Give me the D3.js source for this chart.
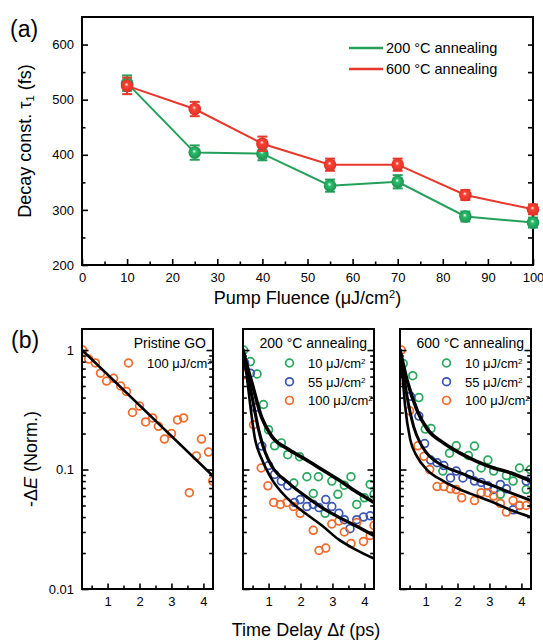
<!DOCTYPE html>
<html>
<head>
<meta charset="utf-8">
<script src="https://cdn.jsdelivr.net/npm/d3@7"></script>
<style>
  body { margin: 0; background: #fff; }
  svg { display: block; }
</style>
</head>
<body>
<svg id="chart" width="543" height="643"></svg>
<script>
// ---------- Panel (a): decay constant vs pump fluence ----------
const fluence = [10, 25, 40, 55, 70, 85, 100];
const tau200 = [530, 404, 402, 344, 351, 288, 277];
const tau200Err = [14, 13, 12, 11, 12, 9, 9];
const tau600 = [525, 483, 420, 382, 382, 327, 301];
const tau600Err = [15, 13, 13, 11, 11, 9, 9];
const fluenceTicks = [0, 10, 20, 30, 40, 50, 60, 70, 80, 90, 100];
const tauTicks = [200, 300, 400, 500, 600];

// ---------- Panel (b): normalised transients ----------
const delayTicks = [1, 2, 3, 4];
const signalTicks = [0.01, 0.1, 1];

// Pristine GO, 100 uJ/cm2
const pristineT = [0.22, 0.41, 0.62, 0.78, 0.97, 1.19, 1.41, 1.59, 1.78, 2.0, 2.19, 2.41, 2.59, 2.78, 3.0, 3.19, 3.38, 3.56, 3.78, 3.94, 4.16, 4.29];
const pristineV = [1.0, 0.84, 0.78, 0.64, 0.55, 0.58, 0.50, 0.45, 0.30, 0.34, 0.25, 0.27, 0.23, 0.18, 0.20, 0.26, 0.27, 0.064, 0.13, 0.18, 0.14, 0.08];
const pristineFitT = [0.2, 4.3];
const pristineFitV = [1.0, 0.088];

// 200 C annealing
const a200T_10 = [0.22, 0.43, 0.64, 0.84, 1.0, 1.19, 1.4, 1.6, 1.79, 1.97, 2.2, 2.4, 2.56, 2.77, 2.98, 3.17, 3.37, 3.58, 3.76, 4.0, 4.18, 4.3];
const a200V_10 = [1.0, 0.80, 0.63, 0.35, 0.215, 0.158, 0.167, 0.133, 0.077, 0.128, 0.087, 0.063, 0.087, 0.043, 0.080, 0.062, 0.074, 0.087, 0.051, 0.058, 0.075, 0.062];
const a200T_55 = [0.25, 0.43, 0.58, 0.79, 1.0, 1.19, 1.4, 1.6, 1.81, 1.99, 2.2, 2.4, 2.58, 2.79, 2.98, 3.2, 3.37, 3.55, 3.76, 3.97, 4.18];
const a200V_55 = [0.78, 0.64, 0.33, 0.157, 0.108, 0.091, 0.080, 0.073, 0.053, 0.056, 0.049, 0.051, 0.048, 0.056, 0.049, 0.043, 0.038, 0.032, 0.038, 0.040, 0.041];
const a200T_100 = [0.25, 0.53, 0.77, 0.98, 1.16, 1.37, 1.58, 1.78, 1.99, 2.4, 2.58, 2.79, 2.98, 3.2, 3.37, 3.58, 3.76, 3.97, 4.18, 4.3];
const a200V_100 = [0.62, 0.237, 0.103, 0.073, 0.053, 0.051, 0.053, 0.049, 0.043, 0.031, 0.021, 0.022, 0.035, 0.037, 0.030, 0.024, 0.036, 0.025, 0.028, 0.034];
const fit200T_10 = [0.2, 0.32, 0.48, 0.79, 1.10, 1.63, 2.15, 2.67, 3.19, 3.71, 4.3];
const fit200V_10 = [1.0, 0.75, 0.53, 0.27, 0.19, 0.147, 0.122, 0.100, 0.082, 0.066, 0.053];
const fit200T_55 = [0.2, 0.32, 0.48, 0.69, 0.9, 1.1, 1.63, 2.15, 2.67, 3.19, 3.71, 4.3];
const fit200V_55 = [1.0, 0.66, 0.41, 0.215, 0.138, 0.107, 0.077, 0.060, 0.048, 0.040, 0.034, 0.028];
const fit200T_100 = [0.2, 0.32, 0.43, 0.58, 0.79, 1.1, 1.63, 2.15, 2.67, 3.19, 3.71, 4.3];
const fit200V_100 = [1.0, 0.60, 0.34, 0.178, 0.122, 0.083, 0.056, 0.043, 0.034, 0.026, 0.0215, 0.018];

// 600 C annealing
const a600T_10 = [0.3, 0.6, 0.79, 0.99, 1.17, 1.54, 1.75, 1.96, 2.34, 2.53, 2.74, 2.95, 3.13, 3.34, 3.53, 3.74, 3.94, 4.15, 4.28];
const a600V_10 = [0.77, 0.61, 0.40, 0.218, 0.22, 0.097, 0.137, 0.158, 0.131, 0.157, 0.103, 0.120, 0.097, 0.062, 0.089, 0.080, 0.103, 0.068, 0.100];
const a600T_55 = [0.22, 0.53, 0.79, 0.97, 1.16, 1.36, 1.57, 1.78, 1.96, 2.17, 2.38, 2.53, 2.74, 2.95, 3.13, 3.34, 3.53, 3.74, 3.94, 4.15];
const a600V_55 = [0.66, 0.41, 0.28, 0.165, 0.120, 0.114, 0.108, 0.085, 0.097, 0.085, 0.091, 0.080, 0.078, 0.073, 0.068, 0.075, 0.069, 0.046, 0.050, 0.080];
const a600T_100 = [0.24, 0.29, 0.5, 0.76, 0.95, 1.13, 1.36, 1.57, 1.78, 1.96, 2.13, 2.53, 2.74, 2.95, 3.13, 3.34, 3.53, 3.74, 3.94, 4.15];
const a600V_100 = [1.0, 0.56, 0.31, 0.158, 0.129, 0.100, 0.072, 0.072, 0.069, 0.068, 0.058, 0.055, 0.064, 0.064, 0.060, 0.052, 0.044, 0.055, 0.050, 0.050];
const fit600T_10 = [0.2, 0.3, 0.42, 0.73, 1.04, 1.56, 2.08, 2.6, 3.13, 3.65, 4.3];
const fit600V_10 = [1.0, 0.76, 0.56, 0.316, 0.22, 0.167, 0.137, 0.117, 0.103, 0.094, 0.080];
const fit600T_55 = [0.2, 0.3, 0.42, 0.625, 0.83, 1.04, 1.56, 2.08, 2.6, 3.13, 3.65, 4.3];
const fit600V_55 = [1.0, 0.66, 0.41, 0.23, 0.167, 0.137, 0.107, 0.094, 0.082, 0.073, 0.064, 0.055];
const fit600T_100 = [0.2, 0.28, 0.36, 0.52, 0.73, 1.04, 1.56, 2.08, 2.6, 3.13, 3.65, 4.3];
const fit600V_100 = [1.0, 0.60, 0.34, 0.178, 0.129, 0.100, 0.080, 0.068, 0.060, 0.053, 0.046, 0.040];

// ---------- drawing ----------
const FONT = '"Liberation Sans", Arial, Helvetica, sans-serif';
const GREEN_A = '#22a05a', RED_A = '#e8372b';
const GREEN = '#27a85c', BLUE = '#3c55b2', ORANGE = '#f06a2a';

const svg = d3.select('#chart').attr('font-family', FONT);
const defs = svg.append('defs');

function rich(sel, parts) {
  parts.forEach(p => {
    const ts = sel.append('tspan').text(p.t);
    if (p.sup) ts.attr('font-size', '62%').attr('baseline-shift', '55%');
    if (p.sub) ts.attr('font-size', '62%').attr('baseline-shift', '-25%');
    if (p.it) ts.attr('font-style', 'italic');
  });
  return sel;
}

function styleAxis(g, size) {
  g.select('.domain').remove();
  g.attr('font-family', FONT).attr('font-size', size);
  g.selectAll('.tick line').attr('stroke', '#000').attr('stroke-width', 1.6);
  g.selectAll('.tick text').attr('fill', '#000');
}

// ===== Panel (a) =====
const ax0 = 82, ax1 = 533, ay0 = 17, ay1 = 265;
const xA = d3.scaleLinear().domain([0, 100]).range([ax0, ax1]);
const yA = d3.scaleLinear().domain([200, 650]).range([ay1, ay0]);
const gA = svg.append('g');

gA.append('g').attr('transform', `translate(0,${ay1})`)
  .call(d3.axisBottom(xA).tickValues(fluenceTicks).tickSizeInner(-6).tickSizeOuter(0).tickPadding(8))
  .call(g => styleAxis(g, 13));
gA.append('g').attr('transform', `translate(0,${ay1})`)
  .call(d3.axisBottom(xA).tickValues(d3.range(5, 100, 10)).tickSizeInner(-3.5).tickSizeOuter(0).tickFormat(''))
  .call(g => styleAxis(g, 13));
gA.append('g').attr('transform', `translate(${ax0},0)`)
  .call(d3.axisLeft(yA).tickValues(tauTicks).tickSizeInner(-6).tickSizeOuter(0).tickPadding(8))
  .call(g => styleAxis(g, 13));
gA.append('g').attr('transform', `translate(${ax0},0)`)
  .call(d3.axisLeft(yA).tickValues([250, 350, 450, 550]).tickSizeInner(-3.5).tickSizeOuter(0).tickFormat(''))
  .call(g => styleAxis(g, 13));
gA.append('g').attr('transform', `translate(${ax1},0)`)
  .call(d3.axisRight(yA).tickValues([250, 300, 350, 400, 450, 500, 550, 600]).tickSizeInner(-5).tickSizeOuter(0).tickFormat(''))
  .call(g => styleAxis(g, 13));

gA.append('rect').attr('x', ax0).attr('y', ay0).attr('width', ax1 - ax0).attr('height', ay1 - ay0)
  .attr('fill', 'none').attr('stroke', '#000').attr('stroke-width', 2);

function sphereGradient(id, color) {
  const g = defs.append('radialGradient').attr('id', id)
    .attr('cx', '50%').attr('cy', '50%').attr('r', '55%').attr('fx', '45%').attr('fy', '38%');
  g.append('stop').attr('offset', '0%').attr('stop-color', '#ffffff');
  g.append('stop').attr('offset', '28%').attr('stop-color', d3.color(color).brighter(0.5));
  g.append('stop').attr('offset', '70%').attr('stop-color', color);
  g.append('stop').attr('offset', '100%').attr('stop-color', d3.color(color).darker(0.3));
}
sphereGradient('sph-green', GREEN_A);
sphereGradient('sph-red', RED_A);

const seriesA = [
  { vals: tau200, err: tau200Err, color: GREEN_A, grad: 'sph-green' },
  { vals: tau600, err: tau600Err, color: RED_A, grad: 'sph-red' }
];
const lineA = d3.line().x(d => xA(d[0])).y(d => yA(d[1]));
seriesA.forEach(s => {
  const pts = fluence.map((f, i) => [f, s.vals[i], s.err[i]]);
  gA.append('path').datum(pts).attr('d', lineA).attr('fill', 'none')
    .attr('stroke', s.color).attr('stroke-width', 2);
  const eb = gA.append('g').attr('stroke', s.color).attr('stroke-width', 2);
  pts.forEach(p => {
    const cx = xA(p[0]);
    eb.append('line').attr('x1', cx).attr('x2', cx).attr('y1', yA(p[1] - p[2])).attr('y2', yA(p[1] + p[2]));
    eb.append('line').attr('x1', cx - 5).attr('x2', cx + 5).attr('y1', yA(p[1] - p[2])).attr('y2', yA(p[1] - p[2]));
    eb.append('line').attr('x1', cx - 5).attr('x2', cx + 5).attr('y1', yA(p[1] + p[2])).attr('y2', yA(p[1] + p[2]));
  });
  gA.append('g').selectAll('circle').data(pts).join('circle')
    .attr('cx', d => xA(d[0])).attr('cy', d => yA(d[1])).attr('r', 6.3)
    .attr('fill', `url(#${s.grad})`);
});

// legend (a)
const legA = [
  { label: '200 °C annealing', color: GREEN_A },
  { label: '600 °C annealing', color: RED_A }
];
legA.forEach((l, i) => {
  const y = 48 + i * 21;
  gA.append('line').attr('x1', 349).attr('x2', 383).attr('y1', y).attr('y2', y)
    .attr('stroke', l.color).attr('stroke-width', 2.5);
  gA.append('text').attr('x', 386).attr('y', y + 5).attr('font-size', 14.5).text(l.label);
});

// axis titles (a)
rich(gA.append('text').attr('x', (ax0 + ax1) / 2).attr('y', 304).attr('text-anchor', 'middle').attr('font-size', 18),
  [{ t: 'Pump Fluence (μJ/cm' }, { t: '2', sup: true }, { t: ')' }]);
rich(gA.append('text').attr('transform', `translate(31,${(ay0 + ay1) / 2}) rotate(-90)`).attr('text-anchor', 'middle').attr('font-size', 18),
  [{ t: 'Decay const. τ' }, { t: '1', sub: true }, { t: ' (fs)' }]);
svg.append('text').attr('x', 10).attr('y', 37).attr('font-size', 23).text('(a)');

// ===== Panel (b) =====
const by0 = 329, by1 = 589;
const yB = d3.scaleLog().domain([0.01, 1.5]).range([by1, by0]);
const minorLog = [0.02, 0.03, 0.04, 0.05, 0.06, 0.07, 0.08, 0.09, 0.2, 0.3, 0.4, 0.5, 0.6, 0.7, 0.8, 0.9];

const panels = [
  {
    x0: 82, x1: 213, labels: true, title: 'Pristine GO',
    data: [{ t: pristineT, v: pristineV, color: ORANGE, name: '100 μJ/cm' }],
    fits: [{ t: pristineFitT, v: pristineFitV, w: 2.6 }]
  },
  {
    x0: 243, x1: 374, labels: false, title: '200 °C annealing',
    data: [
      { t: a200T_10, v: a200V_10, color: GREEN, name: '10 μJ/cm' },
      { t: a200T_55, v: a200V_55, color: BLUE, name: '55 μJ/cm' },
      { t: a200T_100, v: a200V_100, color: ORANGE, name: '100 μJ/cm' }
    ],
    fits: [
      { t: fit200T_10, v: fit200V_10, w: 3.6 },
      { t: fit200T_55, v: fit200V_55, w: 3.2 },
      { t: fit200T_100, v: fit200V_100, w: 2.6 }
    ]
  },
  {
    x0: 400, x1: 531, labels: false, title: '600 °C annealing',
    data: [
      { t: a600T_10, v: a600V_10, color: GREEN, name: '10 μJ/cm' },
      { t: a600T_55, v: a600V_55, color: BLUE, name: '55 μJ/cm' },
      { t: a600T_100, v: a600V_100, color: ORANGE, name: '100 μJ/cm' }
    ],
    fits: [
      { t: fit600T_10, v: fit600V_10, w: 3.6 },
      { t: fit600T_55, v: fit600V_55, w: 3.0 },
      { t: fit600T_100, v: fit600V_100, w: 2.6 }
    ]
  }
];

panels.forEach((p, pi) => {
  const xB = d3.scaleLinear().domain([0.2, 4.3]).range([p.x0, p.x1]);
  const g = svg.append('g');
  const clipId = `clip-b${pi}`;
  defs.append('clipPath').attr('id', clipId).append('rect')
    .attr('x', p.x0).attr('y', by0).attr('width', p.x1 - p.x0).attr('height', by1 - by0);

  // markers
  const marks = g.append('g').attr('clip-path', `url(#${clipId})`);
  p.data.forEach(s => {
    marks.append('g').selectAll('circle').data(s.t.map((t, i) => [t, s.v[i]])).join('circle')
      .attr('cx', d => xB(d[0])).attr('cy', d => yB(d[1])).attr('r', 3.9)
      .attr('fill', 'none').attr('stroke', s.color).attr('stroke-width', 1.7);
  });
  // fitted decays
  const lineB = d3.line().x(d => xB(d[0])).y(d => yB(d[1])).curve(d3.curveMonotoneX);
  p.fits.forEach(f => {
    marks.append('path').datum(f.t.map((t, i) => [t, f.v[i]])).attr('d', lineB)
      .attr('fill', 'none').attr('stroke', '#000').attr('stroke-width', f.w).attr('stroke-linecap', 'round');
  });

  // axes
  g.append('g').attr('transform', `translate(0,${by1})`)
    .call(d3.axisBottom(xB).tickValues(delayTicks).tickFormat(d3.format('d')).tickSizeInner(-5.5).tickSizeOuter(0).tickPadding(8))
    .call(a => styleAxis(a, 13));
  g.append('g').attr('transform', `translate(0,${by1})`)
    .call(d3.axisBottom(xB).tickValues([0.5, 1.5, 2.5, 3.5]).tickSizeInner(-3.5).tickSizeOuter(0).tickFormat(''))
    .call(a => styleAxis(a, 13));
  const left = d3.axisLeft(yB).tickValues(signalTicks).tickSizeInner(-6.5).tickSizeOuter(0).tickPadding(8)
    .tickFormat(p.labels ? d3.format('~g') : () => '');
  g.append('g').attr('transform', `translate(${p.x0},0)`).call(left).call(a => styleAxis(a, 13));
  g.append('g').attr('transform', `translate(${p.x0},0)`)
    .call(d3.axisLeft(yB).tickValues(minorLog).tickSizeInner(-3.8).tickSizeOuter(0).tickFormat(''))
    .call(a => styleAxis(a, 13));
  g.append('g').attr('transform', `translate(${p.x1},0)`)
    .call(d3.axisRight(yB).tickValues(signalTicks.slice(1)).tickSizeInner(-6.5).tickSizeOuter(0).tickFormat(''))
    .call(a => styleAxis(a, 13));
  g.append('g').attr('transform', `translate(${p.x1},0)`)
    .call(d3.axisRight(yB).tickValues(minorLog).tickSizeInner(-3.8).tickSizeOuter(0).tickFormat(''))
    .call(a => styleAxis(a, 13));

  g.append('rect').attr('x', p.x0).attr('y', by0).attr('width', p.x1 - p.x0).attr('height', by1 - by0)
    .attr('fill', 'none').attr('stroke', '#000').attr('stroke-width', 2);

  // in-panel legend
  g.append('text').attr('x', p.x1 - 7).attr('y', 348).attr('text-anchor', 'end')
    .attr('font-size', 14).text(p.title);
  p.data.forEach((s, i) => {
    const y = 363 + i * 18.7;
    g.append('circle').attr('cx', p.x0 + 46.5).attr('cy', y).attr('r', 3.9)
      .attr('fill', 'none').attr('stroke', s.color).attr('stroke-width', 1.7);
    rich(g.append('text').attr('x', p.x0 + 65).attr('y', y + 4.8).attr('font-size', 13),
      [{ t: s.name }, { t: '2', sup: true }]);
  });
});

// axis titles (b)
rich(svg.append('text').attr('transform', `translate(37,459) rotate(-90)`).attr('text-anchor', 'middle').attr('font-size', 18),
  [{ t: '-Δ' }, { t: 'E', it: true }, { t: ' (Norm.)' }]);
rich(svg.append('text').attr('x', 306).attr('y', 636).attr('text-anchor', 'middle').attr('font-size', 18),
  [{ t: 'Time Delay Δ' }, { t: 't', it: true }, { t: ' (ps)' }]);
svg.append('text').attr('x', 11).attr('y', 348).attr('font-size', 23).text('(b)');
</script>
</body>
</html>
